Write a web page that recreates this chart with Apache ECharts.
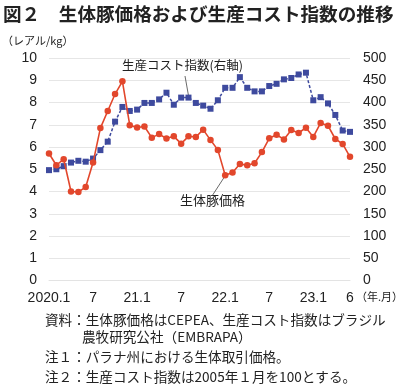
<!DOCTYPE html>
<html><head><meta charset="utf-8">
<script src="https://cdn.jsdelivr.net/npm/echarts@6/dist/echarts.min.js"></script>
<style>html,body{margin:0;padding:0;background:#fff}#c{width:400px;height:392px}</style>
</head><body><div id="c"></div>
<script>
const categories = ['2020.1','2020.2','2020.3','2020.4','2020.5','2020.6','2020.7','2020.8','2020.9','2020.10','2020.11','2020.12',
 '2021.1','2021.2','2021.3','2021.4','2021.5','2021.6','2021.7','2021.8','2021.9','2021.10','2021.11','2021.12',
 '2022.1','2022.2','2022.3','2022.4','2022.5','2022.6','2022.7','2022.8','2022.9','2022.10','2022.11','2022.12',
 '2023.1','2023.2','2023.3','2023.4','2023.5','2023.6'];
const tickLabels = {0:'2020.1',6:'7',12:'21.1',18:'7',24:'22.1',30:'7',36:'23.1',41:'6'};
const pigPrice = [5.71,5.18,5.45,4.0,3.98,4.2,5.3,6.85,7.62,8.38,8.95,6.98,6.88,6.92,6.42,6.58,6.38,6.48,6.15,6.48,6.45,
 6.78,6.31,5.87,4.73,4.85,5.24,5.18,5.27,5.77,6.39,6.55,6.34,6.76,6.63,6.87,6.45,7.08,6.96,6.36,6.14,5.56];
const costIndex = [248,250,257,265,269,267,274,293,312,357,390,381,384,399,399,407,422,395,411,411,399,
 393,386,405,433,433,457,433,425,425,437,442,452,455,463,467,405,412,398,372,337,334];
const leftTicks = [0,1,2,3,4,5,6,7,8,9,10];
const rightTicks = [0,50,100,150,200,250,300,350,400,450,500];

const FONT = '"Liberation Sans","Noto Sans CJK JP",sans-serif';
const CJK = '"Noto Sans CJK JP",sans-serif';
const RED = '#E2472C', BLUE = '#3E4A9E';
const chart = echarts.init(document.getElementById('c'), null, {renderer:'canvas'});
const option = {
  animation:false,
  backgroundColor:'#fff',
  grid:{left:49,right:50,top:58,bottom:111.5,containLabel:false},
  xAxis:{type:'category',data:categories,boundaryGap:false,
    axisLine:{show:true,lineStyle:{color:'#e3e3e3'}},axisTick:{show:false},
    axisLabel:{interval:0,margin:11,color:'#222',fontSize:14,fontFamily:FONT,
      formatter:(v,i)=> tickLabels[i]!==undefined?tickLabels[i]:''}},
  yAxis:[
    {type:'value',min:leftTicks[0],max:leftTicks[leftTicks.length-1],interval:1,
     axisLine:{show:false},axisTick:{show:false},
     splitLine:{lineStyle:{color:'#e6e6e6'}},
     axisLabel:{margin:12,color:'#222',fontSize:14,fontFamily:FONT}},
    {type:'value',min:rightTicks[0],max:rightTicks[rightTicks.length-1],interval:50,position:'right',
     axisLine:{show:false},axisTick:{show:false},splitLine:{show:false},
     axisLabel:{margin:13,color:'#222',fontSize:14,fontFamily:FONT}}
  ],
  series:[
    {name:'生産コスト指数',type:'line',yAxisIndex:1,data:costIndex,symbol:'rect',symbolSize:6,
     lineStyle:{color:BLUE,width:1.5,type:[3,2]},itemStyle:{color:BLUE},z:2},
    {name:'生体豚価格',type:'line',yAxisIndex:0,data:pigPrice,symbol:'circle',symbolSize:6.5,
     lineStyle:{color:RED,width:1.6},itemStyle:{color:RED},z:3}
  ]
};
chart.setOption(option);
const pB = chart.convertToPixel({xAxisIndex:0,yAxisIndex:1},[19,costIndex[19]]);
const pR = chart.convertToPixel({xAxisIndex:0,yAxisIndex:0},[24,pigPrice[24]]);
const grid2 = chart.convertToPixel({xAxisIndex:0,yAxisIndex:0},[41,0]);
chart.setOption({graphic:[
  {type:'text',left:3,top:5,style:{text:'図２　生体豚価格および生産コスト指数の推移',font:'bold 18.6px '+CJK,fill:'#222'}},
  {type:'text',left:2,top:35,style:{text:'（レアル/kg）',font:'11px '+CJK,fill:'#222'}},
  {type:'text',left:122,top:59,style:{text:'生産コスト指数(右軸)',font:'12.5px '+CJK,fill:'#222'}},
  {type:'line',shape:{x1:185,y1:76,x2:pB[0],y2:pB[1]-2},style:{stroke:'#444',lineWidth:0.8}},
  {type:'text',left:180,top:194,style:{text:'生体豚価格',font:'13px '+CJK,fill:'#222'}},
  {type:'line',shape:{x1:212,y1:196,x2:pR[0]-1,y2:pR[1]+2},style:{stroke:'#444',lineWidth:0.8}},
  {type:'text',left:grid2[0]+6,top:291,style:{text:'（年.月）',font:'11px '+CJK,fill:'#222'}},
  {type:'text',left:45,top:313,style:{text:'資料：生体豚価格はCEPEA、生産コスト指数はブラジル',font:'13.6px '+CJK,fill:'#222'}},
  {type:'text',left:82,top:330,style:{text:'農牧研究公社（EMBRAPA）',font:'13.6px '+CJK,fill:'#222'}},
  {type:'text',left:45,top:350,style:{text:'注１：パラナ州における生体取引価格。',font:'13.6px '+CJK,fill:'#222'}},
  {type:'text',left:45,top:370,style:{text:'注２：生産コスト指数は2005年１月を100とする。',font:'13.6px '+CJK,fill:'#222'}}
]});
</script></body></html>
